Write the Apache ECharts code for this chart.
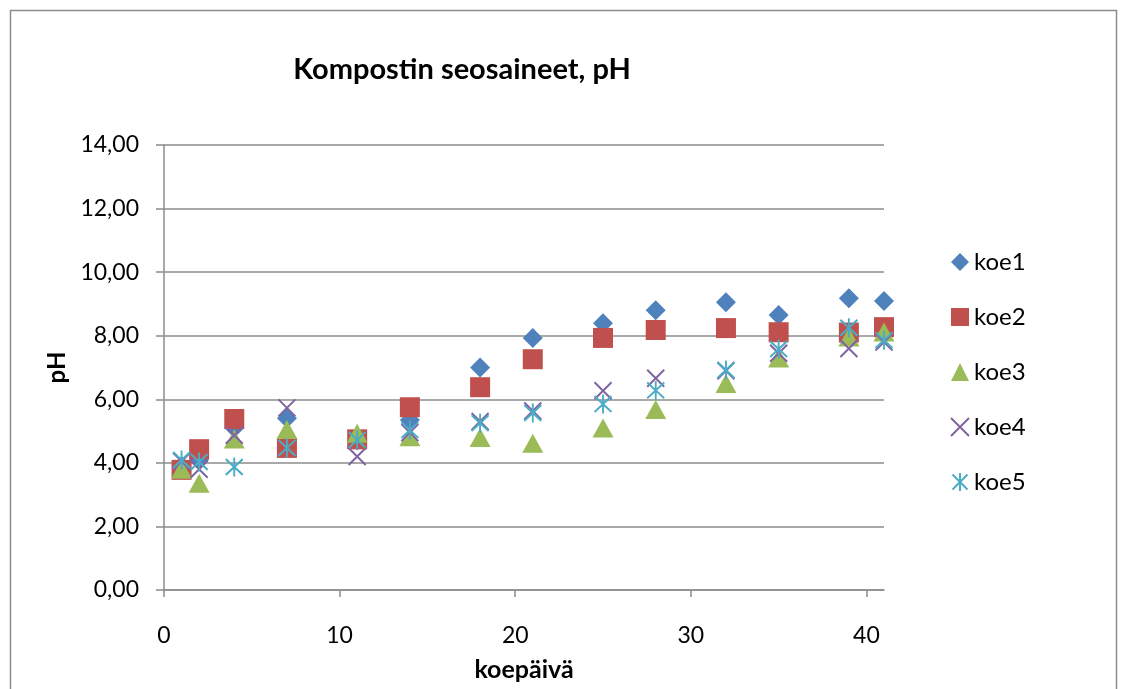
<!DOCTYPE html>
<html>
<head>
<meta charset="utf-8">
<script src="https://cdn.jsdelivr.net/npm/echarts@6/dist/echarts.min.js"></script>
<style>
  html, body { margin: 0; padding: 0; background: #fff; }
  #chart { width: 1121px; height: 689px; }
</style>
</head>
<body>
<div id="chart"></div>
<script>
// Koepäivät (x) ja pH-mittaukset kullekin koesarjalle
const days = [1, 2, 4, 7, 11, 14, 18, 21, 25, 28, 32, 35, 39, 41];
const koe1 = [3.90, 4.10, 5.10, 5.40, 4.70, 5.35, 7.00, 7.93, 8.39, 8.80, 9.05, 8.65, 9.18, 9.09];
const koe2 = [3.78, 4.43, 5.38, 4.47, 4.74, 5.75, 6.38, 7.26, 7.93, 8.18, 8.24, 8.11, 8.10, 8.27];
const koe3 = [3.80, 3.36, 4.75, 5.05, 4.93, 4.82, 4.80, 4.62, 5.10, 5.68, 6.50, 7.30, 7.96, 8.12];
const koe4 = [4.05, 3.80, 4.87, 5.73, 4.20, 4.95, 5.30, 5.63, 6.27, 6.66, 6.90, 7.45, 7.60, 7.80];
const koe5 = [4.09, 4.03, 3.87, 4.47, 4.72, 5.03, 5.25, 5.57, 5.85, 6.28, 6.92, 7.58, 8.25, 7.86];
const yTicks = [0, 2, 4, 6, 8, 10, 12, 14];
const xTicks = [0, 10, 20, 30, 40];

const FONT = 'Lato, "Open Sans", sans-serif';
const pairs = ys => days.map((d, i) => [d, ys[i]]);

const crossPath = 'path://M0,0L10,10M10,0L0,10';
const starPath = 'path://M0,0L10,10M10,0L0,10M5,-1L5,11';

function filled(name, ys, color, symbol, size) {
  return {
    name, type: 'scatter', data: pairs(ys), symbol, symbolSize: size,
    itemStyle: { color, opacity: 1 }, z: 3
  };
}
function stroked(name, ys, color, symbol, size) {
  return {
    name, type: 'scatter', data: pairs(ys), symbol, symbolSize: size,
    itemStyle: { color: 'rgba(0,0,0,0)', borderColor: color, borderWidth: 2, opacity: 1 }, z: 4
  };
}

const chart = echarts.init(document.getElementById('chart'), null, { renderer: 'canvas' });
chart.setOption({
  animation: false,
  backgroundColor: '#ffffff',
  graphic: [{
    type: 'rect', shape: { x: 10.5, y: 10.5, width: 1106, height: 700 },
    style: { fill: 'none', stroke: '#8c8c8c', lineWidth: 1.5 }, z: -10
  }, {
    type: 'text', x: 462, y: 70,
    style: { text: 'Kompostin seosaineet, pH', font: 'bold 29px ' + FONT, fill: '#000',
      align: 'center', verticalAlign: 'middle' }
  }],
  grid: { left: 164, right: 237, top: 145, bottom: 99, containLabel: false, outerBoundsMode: 'none' },
  legend: {
    orient: 'vertical', left: 945, top: 245, itemGap: 31, itemWidth: 18, itemHeight: 18,
    textStyle: { fontFamily: FONT, fontSize: 24, color: '#000' },
    data: ['koe1', 'koe2', 'koe3', 'koe4', 'koe5']
  },
  xAxis: {
    type: 'value', min: 0, max: 41, interval: 10,
    name: 'koepäivä', nameLocation: 'middle', nameGap: 67,
    nameTextStyle: { fontFamily: FONT, fontSize: 25, fontWeight: 'bold', color: '#000' },
    axisLine: { show: true, lineStyle: { color: '#8c8c8c', width: 1.5 } },
    axisTick: { show: true, length: 7, lineStyle: { color: '#8c8c8c', width: 1.5 },
      customValues: xTicks },
    axisLabel: { fontFamily: FONT, fontSize: 23, color: '#000', margin: 34,
      customValues: xTicks, formatter: v => String(v) },
    splitLine: { show: false }
  },
  yAxis: {
    type: 'value', min: 0, max: 14, interval: 2,
    name: 'pH', nameLocation: 'middle', nameGap: 92, nameRotate: 90,
    nameTextStyle: { fontFamily: FONT, fontSize: 24, fontWeight: 'bold', color: '#000' },
    axisLine: { show: true, lineStyle: { color: '#8c8c8c', width: 1.5 } },
    axisTick: { show: true, length: 8, lineStyle: { color: '#8c8c8c', width: 1.5 },
      customValues: yTicks },
    axisLabel: { fontFamily: FONT, fontSize: 23, color: '#000', margin: 25,
      customValues: yTicks, formatter: v => v.toFixed(2).replace('.', ',') },
    splitLine: { show: true, lineStyle: { color: '#8c8c8c', width: 1.5 } }
  },
  series: [
    filled('koe1', koe1, '#4F81BD', 'diamond', 20),
    filled('koe2', koe2, '#C0504D', 'rect', 20),
    filled('koe3', koe3, '#9BBB59', 'triangle', [21, 19]),
    stroked('koe4', koe4, '#8064A2', crossPath, 17),
    stroked('koe5', koe5, '#4BACC6', starPath, [17, 19])
  ]
});
</script>
</body>
</html>
